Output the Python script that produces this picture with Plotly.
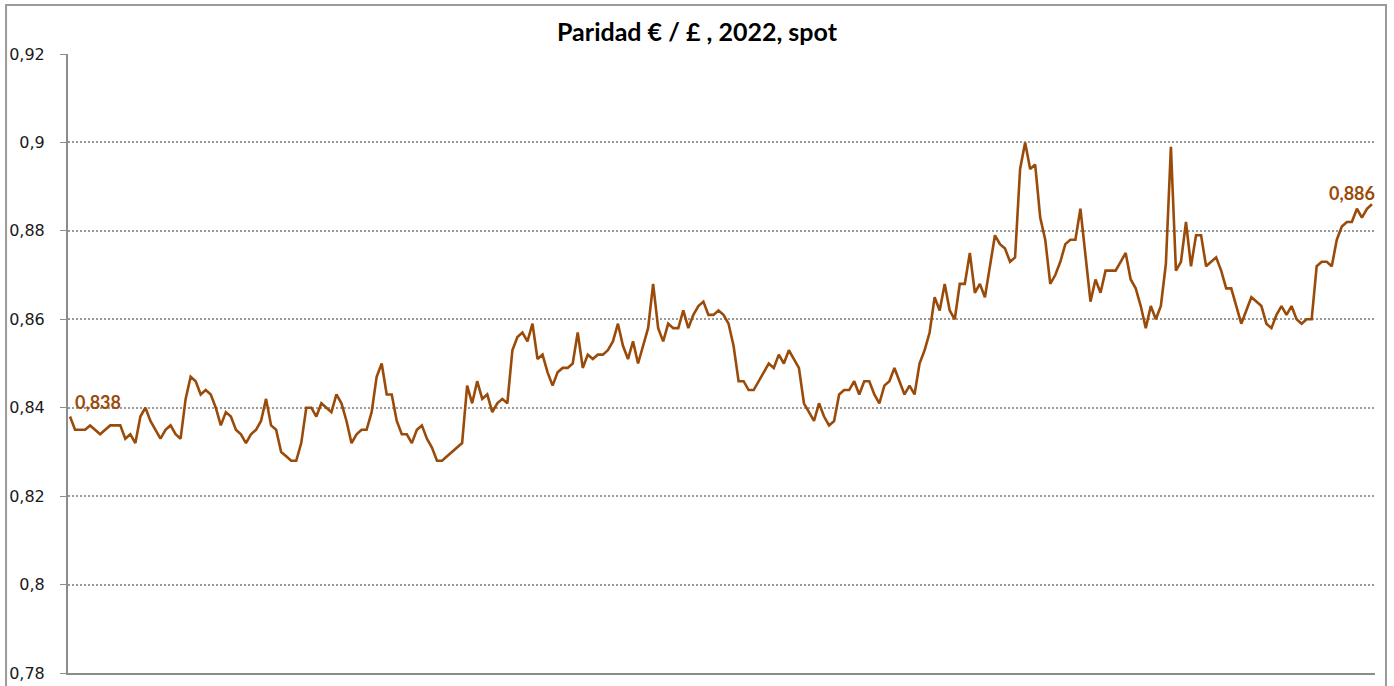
import plotly.graph_objects as go

# Paridad EUR/GBP 2022 (spot, daily)
part_a = [0.838,0.835,0.835,0.835,0.836,0.835,0.834,0.835,0.836,0.836,0.836,0.833,0.834,0.832,0.838,0.840,
          0.837,0.835,0.833,0.835,0.836,0.834,0.833,0.842,0.847,0.846,0.843,0.844,0.843,0.840,0.836,0.839,
          0.838,0.835,0.834,0.832,0.834,0.835,0.837,0.842,0.836,0.835,0.830,0.829,0.828,0.828,0.832]
part_b = [0.840,0.840,0.838,0.841,0.840,0.839,0.843,0.841,0.837,0.832,0.834,0.835,0.835,0.839,0.847,0.850,
          0.843,0.843,0.837,0.834,0.834,0.832,0.835,0.836,0.833,0.831,0.828,0.828,0.829,0.830,0.831,0.832,
          0.845,0.841,0.846,0.842,0.843,0.839,0.841,0.842,0.841]
part_c = [0.853,0.856,0.857,0.855,0.859,0.851,0.852,0.848,0.845,0.848,0.849,0.849,0.850,0.857,0.849,0.852,
          0.851,0.852,0.852,0.853,0.855,0.859,0.854,0.851,0.855,0.850,0.854,0.858,0.868,0.858,0.855,0.859,
          0.858,0.858,0.862,0.858,0.861,0.863,0.864,0.861,0.861,0.862,0.861,0.859,0.854,0.846,0.846,0.844,
          0.844,0.846,0.848,0.850,0.849,0.852,0.850,0.853,0.851,0.849,0.841,0.839,0.837,0.841,0.838,0.836,
          0.837,0.843,0.844,0.844,0.846,0.843,0.846,0.846,0.843,0.841,0.845,0.846,0.849,0.846,0.843,0.845,
          0.843,0.850]
part_d = [0.853,0.857,0.865,0.862,0.868,0.862,0.860,0.868,0.868,0.875,0.866,0.868,0.865,0.872,0.879,0.877,
          0.876,0.873,0.874,0.894,0.900,0.894,0.895,0.883,0.878,0.868,0.870,0.873,0.877,0.878,0.878,0.885,
          0.875,0.864,0.869,0.866,0.871,0.871,0.871,0.873,0.875,0.869,0.867,0.863,0.858,0.863,0.860,0.863,
          0.8725,0.899,0.871,0.873,0.882,0.872,0.879,0.879,0.872,0.873,0.874,0.871,0.867,0.867,0.863,0.859,
          0.862,0.865,0.864,0.863,0.859,0.858,0.861,0.863,0.861,0.863,0.860,0.859,0.860,0.860,0.872,0.873,
          0.873,0.872,0.878,0.881,0.882,0.882,0.885,0.883,0.885,0.886]

rate = part_a + part_b + part_c + part_d
days = list(range(len(rate)))

y_ticks = [0.78, 0.80, 0.82, 0.84, 0.86, 0.88, 0.90, 0.92]
y_tick_labels = ["0,78", "0,8", "0,82", "0,84", "0,86", "0,88", "0,9", "0,92"]

title_text = "Paridad € / £ , 2022, spot"
first_label = "0,838"
last_label = "0,886"

line_color = "#9a4b0a"

fig = go.Figure()
fig.add_trace(go.Scatter(x=days, y=rate, mode="lines",
                         line=dict(color=line_color, width=2.6),
                         hoverinfo="y", showlegend=False))

fig.add_annotation(x=days[0], y=rate[0], text=f"<b>{first_label}</b>", showarrow=False,
                   xanchor="left", yanchor="middle", xshift=3, yshift=15,
                   font=dict(family="Lato", size=18, color=line_color))
fig.add_annotation(x=days[-1], y=rate[-1], text=f"<b>{last_label}</b>", showarrow=False,
                   xanchor="right", yanchor="middle", xshift=5, yshift=11,
                   font=dict(family="Lato", size=18, color=line_color))

# outer chart border
fig.add_shape(type="rect", xref="paper", yref="paper",
              x0=-0.0474, x1=1.0084, y0=-0.03, y1=1.0792,
              line=dict(color="#9a9a9a", width=2), fillcolor="rgba(0,0,0,0)", layer="below")

fig.update_layout(
    width=1394, height=686,
    margin=dict(l=68, r=19, t=54, b=13, autoexpand=False),
    paper_bgcolor="white", plot_bgcolor="white",
    title=dict(text=f"<b>{title_text}</b>", x=0.5, xref="container", xanchor="center",
               y=0.953, yref="container", yanchor="middle",
               font=dict(family="Lato", size=25, color="#000000")),
    xaxis=dict(range=[-0.4, len(rate) - 1 + 0.6], showgrid=False, zeroline=False, automargin=False,
               showticklabels=False, ticks="", showline=True, linecolor="#8c8c8c", linewidth=2),
    yaxis=dict(range=[0.78, 0.92], tickvals=y_ticks, ticktext=y_tick_labels, automargin=False,
               showgrid=True, gridcolor="#9a9a9a", griddash="2px,2px", gridwidth=1.5,
               zeroline=False, showline=True, linecolor="#8c8c8c", linewidth=2,
               ticks="outside", ticklen=6, tickcolor="#8c8c8c", tickwidth=1.3,
               ticklabelstandoff=12,
               tickfont=dict(family="DejaVu Sans", size=16, color="#1a1a1a")),
)

fig.write_html("out.html", config={"displayModeBar": False},
               post_script="document.body.style.margin='0';document.body.style.overflow='hidden';")
